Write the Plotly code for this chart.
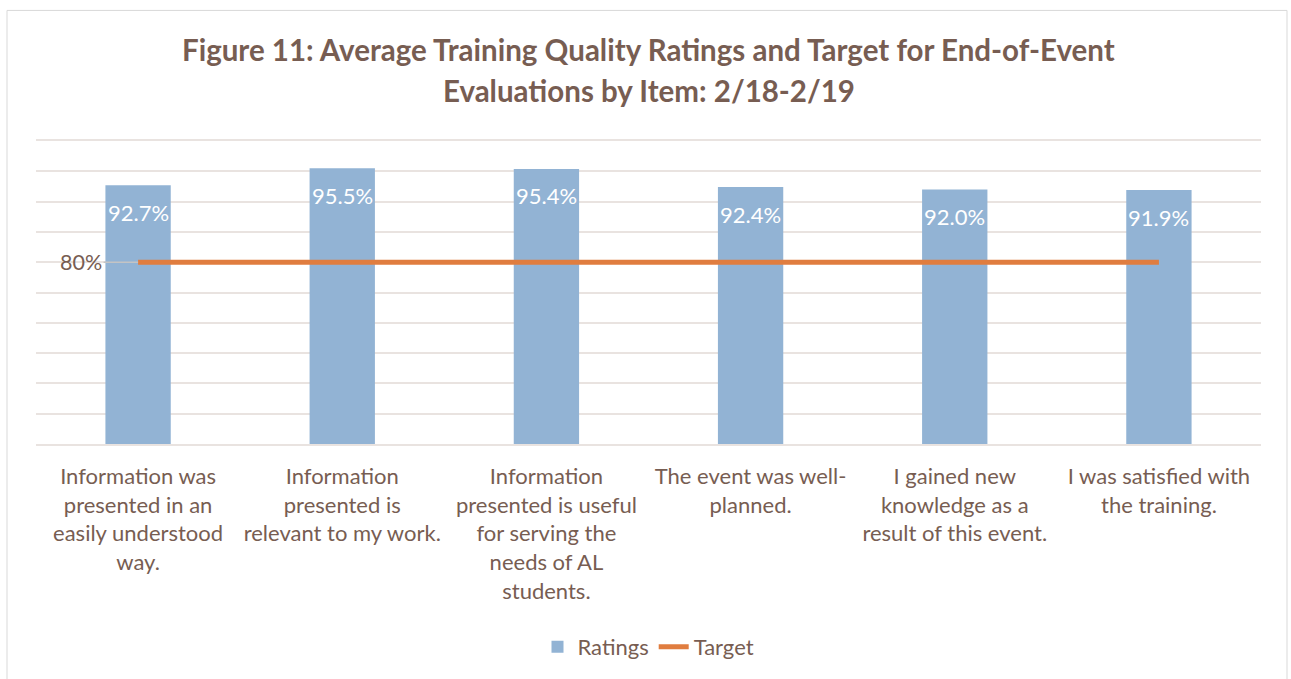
import plotly.graph_objects as go

categories = [
    "Information was<br>presented in an<br>easily understood<br>way.",
    "Information<br>presented is<br>relevant to my work.",
    "Information<br>presented is useful<br>for serving the<br>needs of AL<br>students.",
    "The event was well-<br>planned.",
    "I gained new<br>knowledge as a<br>result of this event.",
    "I was satisfied with<br>the training.",
]
ratings = [92.7, 95.5, 95.4, 92.4, 92.0, 91.9]
target = [80, 80, 80, 80, 80, 80]

TXT = "#775d52"
GRID = "#e9e3e0"
FONT = "Lato"

fig = go.Figure()
fig.add_trace(go.Bar(
    x=categories, y=ratings, name="Ratings",
    marker=dict(color="#92b3d4", line=dict(width=0)),
    width=0.32,
))
fig.add_trace(go.Scatter(
    x=categories, y=target, name="Target", mode="lines",
    line=dict(color="#e07d3f", width=5),
))

annotations = []
for c, v in zip(categories, ratings):
    annotations.append(dict(
        x=c, y=v, xref="x", yref="y", text=f"{v:.1f}%", showarrow=False,
        yshift=-27, font=dict(family=FONT, size=22, color="white"),
    ))
annotations.append(dict(
    x=categories[0], y=target[0], xref="x", yref="y", text=f"{target[0]}%",
    showarrow=True, arrowhead=0, arrowwidth=1.5, arrowcolor="#c4c4c4",
    ax=-57, ay=0, standoff=0, font=dict(family=FONT, size=21.5, color=TXT),
))
annotations.append(dict(
    x=0.5, y=(445 - 49) / 304, xref="paper", yref="paper",
    text="<b>Figure 11: Average Training Quality Ratings and Target for End-of-Event</b>",
    showarrow=False, font=dict(family=FONT, size=29.5, color=TXT),
    yanchor="middle", xanchor="center",
))
annotations.append(dict(
    x=0.5, y=(445 - 90) / 304, xref="paper", yref="paper",
    text="<b>Evaluations by Item: 2/18-2/19</b>",
    showarrow=False, font=dict(family=FONT, size=29.5, color=TXT),
    yanchor="middle", xanchor="center",
))

fig.update_layout(
    width=1291, height=679,
    margin=dict(l=36, r=30, t=141, b=234),
    paper_bgcolor="white", plot_bgcolor="white",
    font=dict(family=FONT, size=22, color=TXT),
    showlegend=True,
    legend=dict(orientation="h", x=0.5, xanchor="center", y=-0.664, yanchor="middle",
                font=dict(family=FONT, size=22, color=TXT)),
    xaxis=dict(showgrid=False, showline=True, mirror=True, linecolor=GRID, linewidth=1.5,
               ticks="", ticklabelstandoff=12, tickfont=dict(family=FONT, size=22, color=TXT),
               range=[-0.5, 5.5]),
    yaxis=dict(range=[50, 100], dtick=5, showticklabels=False, showgrid=True,
               gridcolor=GRID, gridwidth=1.5, zeroline=False, showline=False),
    annotations=annotations,
)

# Chart area border
fig.add_shape(type="rect", xref="paper", yref="paper",
              x0=(7 - 36) / 1225, x1=(1287 - 36) / 1225,
              y0=(445 - 690) / 304, y1=(445 - 10) / 304,
              line=dict(color="#d9d9d9", width=1), layer="below")

fig.write_html("out.html", config={"displayModeBar": False},
               post_script="document.body.style.margin='0';")
